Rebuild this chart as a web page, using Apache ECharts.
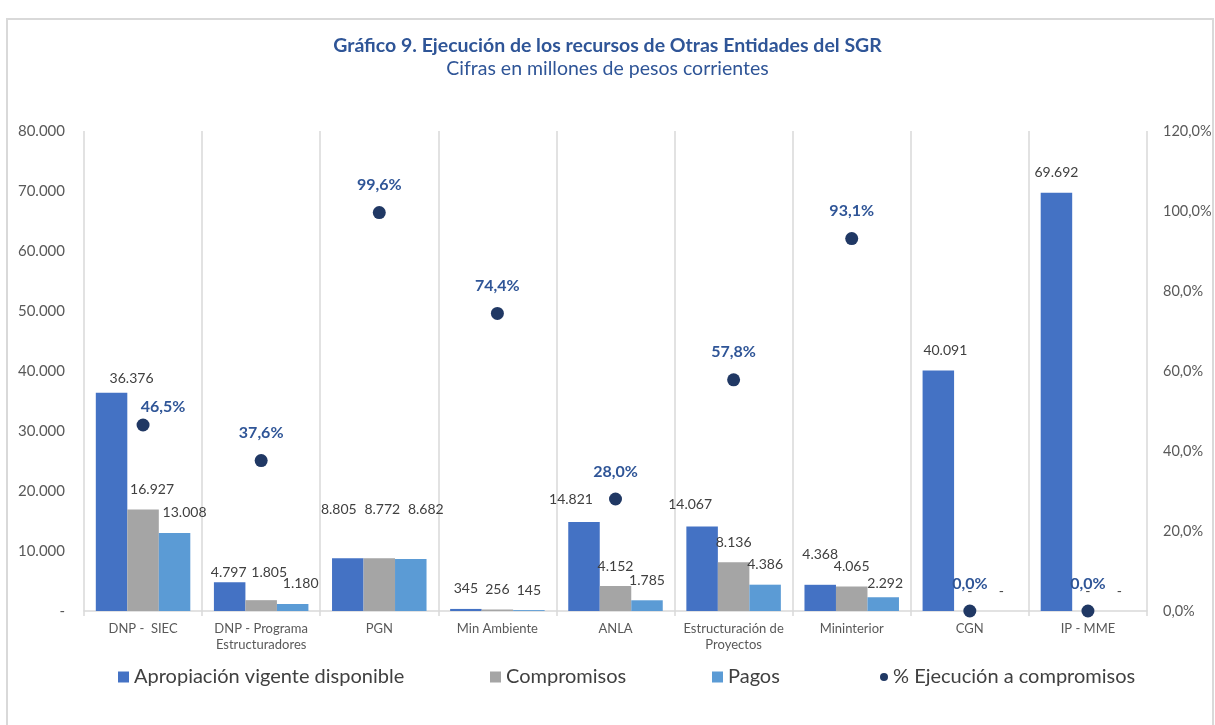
<!DOCTYPE html>
<html>
<head>
<meta charset="utf-8">
<script src="https://cdn.jsdelivr.net/npm/echarts@6/dist/echarts.min.js"></script>
<style>
  html, body { margin: 0; padding: 0; background: #fff; }
  #chart { width: 1215px; height: 725px; }
</style>
</head>
<body>
<div id="chart"></div>
<script>
const categories = ['DNP -  SIEC', 'DNP - Programa\nEstructuradores', 'PGN', 'Min Ambiente', 'ANLA',
  'Estructuración de\nProyectos', 'Mininterior', 'CGN', 'IP - MME'];
const apropiacion = [36376, 4797, 8805, 345, 14821, 14067, 4368, 40091, 69692];
const compromisos = [16927, 1805, 8772, 256, 4152, 8136, 4065, 0, 0];
const pagos = [13008, 1180, 8682, 145, 1785, 4386, 2292, 0, 0];
const ejecucion = [46.5, 37.6, 99.6, 74.4, 28.0, 57.8, 93.1, 0.0, 0.0];

const FONT = 'Lato';
const textGray = '#595959';

// 36.376 style, zero shown as "-"
const fmtNum = v => v === 0 ? '-' : String(v).replace(/\B(?=(\d{3})+(?!\d))/g, '.');
const fmtPct = v => v.toFixed(1).replace('.', ',') + '%';

// labels nudged by hand in the original, per series / category index
const labelNudge = {
  0: { 0: [20, 6], 1: [-1, 10], 2: [-9, -29], 4: [-13, -3], 5: [-12, -2], 6: [0, -10], 7: [7, 0] },
  1: { 0: [9, 0], 1: [8, -8], 2: [3, -29] },
  2: { 0: [10, 0], 1: [8, 0], 2: [15, -29], 6: [2, 6] }
};

const chart = echarts.init(document.getElementById('chart'));

const barLabel = {
  show: true,
  position: 'top',
  distance: 13,
  color: '#404040',
  fontSize: 14,
  fontFamily: FONT,
  formatter: p => fmtNum(p.value)
};

const withNudge = (values, s) => values.map((v, i) =>
  labelNudge[s][i] ? { value: v, label: { offset: labelNudge[s][i] } } : v);

const legendBase = {
  top: 667,
  padding: 0,
  itemWidth: 11,
  itemHeight: 11,
  textStyle: { color: '#404040', fontSize: 20, fontFamily: FONT },
  selectedMode: false
};

const barSeries = (name, values, color, s) => ({
  name: name,
  type: 'bar',
  data: withNudge(values, s),
  barWidth: 31.5,
  barGap: '0%',
  itemStyle: { color: color },
  label: barLabel
});

const option = {
  backgroundColor: '#fff',
  animation: false,
  textStyle: { fontFamily: FONT },
  title: {
    text: 'Gráfico 9. Ejecución de los recursos de Otras Entidades del SGR',
    subtext: 'Cifras en millones de pesos corrientes',
    left: 'center',
    top: 31,
    itemGap: 3,
    textStyle: { color: '#2F5597', fontSize: 19.5, fontWeight: 'bold', fontFamily: FONT },
    subtextStyle: { color: '#2F5597', fontSize: 19.5, fontFamily: FONT }
  },
  graphic: [{
    type: 'rect',
    shape: { x: 7, y: 19, width: 1206, height: 720 },
    style: { fill: 'none', stroke: '#d9d9d9', lineWidth: 2 },
    silent: true
  }],
  legend: [
    Object.assign({}, legendBase, { left: 118, data: [{ name: 'Apropiación vigente disponible', icon: 'rect' }] }),
    Object.assign({}, legendBase, { left: 490, data: [{ name: 'Compromisos', icon: 'rect' }] }),
    Object.assign({}, legendBase, { left: 712, data: [{ name: 'Pagos', icon: 'rect' }] }),
    Object.assign({}, legendBase, { left: 880, itemWidth: 8, itemHeight: 8,
      data: [{ name: '% Ejecución a compromisos', icon: 'circle' }] })
  ],
  grid: { left: 84, right: 68, top: 131, bottom: 114 },
  xAxis: {
    type: 'category',
    data: categories,
    axisLine: { lineStyle: { color: '#d9d9d9', width: 1.5 } },
    axisTick: { show: true, length: 5, lineStyle: { color: '#d9d9d9', width: 1.5 } },
    splitLine: { show: true, lineStyle: { color: '#d9d9d9', width: 1.5 } },
    axisLabel: { color: textGray, fontSize: 13, fontFamily: FONT, margin: 10, lineHeight: 16, interval: 0 }
  },
  yAxis: [
    {
      type: 'value',
      min: 0,
      max: 80000,
      interval: 10000,
      axisLine: { show: false },
      axisTick: { show: false },
      splitLine: { show: false },
      axisLabel: { color: textGray, fontSize: 15, fontFamily: FONT, margin: 19, formatter: fmtNum }
    },
    {
      type: 'value',
      min: 0,
      max: 120,
      interval: 20,
      axisLine: { show: false },
      axisTick: { show: false },
      splitLine: { show: false },
      axisLabel: { color: textGray, fontSize: 14.5, fontFamily: FONT, margin: 16, formatter: v => fmtPct(v) }
    }
  ],
  series: [
    barSeries('Apropiación vigente disponible', apropiacion, '#4472C4', 0),
    barSeries('Compromisos', compromisos, '#A5A5A5', 1),
    barSeries('Pagos', pagos, '#5B9BD5', 2),
    {
      name: '% Ejecución a compromisos',
      type: 'scatter',
      yAxisIndex: 1,
      symbolSize: 13,
      itemStyle: { color: '#203864', opacity: 1 },
      data: ejecucion.map((v, i) => i === 0
        ? { value: v, label: { offset: [20, 9] } }
        : v),
      label: {
        show: true,
        position: 'top',
        distance: 13,
        color: '#2F5597',
        fontSize: 16,
        fontWeight: 'bold',
        fontFamily: FONT,
        formatter: p => fmtPct(p.value)
      },
      z: 5
    }
  ]
};

chart.setOption(option);
</script>
</body>
</html>
